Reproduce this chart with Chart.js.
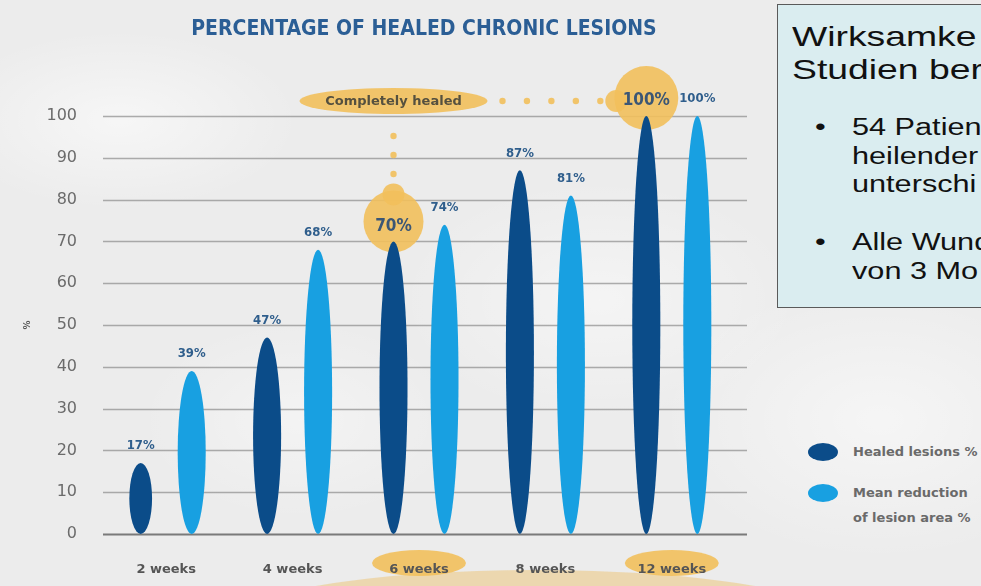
<!DOCTYPE html>
<html><head><meta charset="utf-8">
<script src="https://cdn.jsdelivr.net/npm/chart.js@4/dist/chart.umd.min.js"></script>
<style>
html,body{margin:0;padding:0;width:981px;height:586px;overflow:hidden;}
body{position:relative;background:#ececec;
 background-image:radial-gradient(ellipse 180px 90px at 120px 120px,rgba(255,255,255,.55),rgba(255,255,255,0)),
 radial-gradient(ellipse 200px 120px at 600px 300px,rgba(255,255,255,.45),rgba(255,255,255,0)),
 radial-gradient(ellipse 220px 140px at 880px 420px,rgba(255,255,255,.5),rgba(255,255,255,0)),
 radial-gradient(ellipse 160px 100px at 300px 420px,rgba(255,255,255,.4),rgba(255,255,255,0));}
#c{position:absolute;left:0;top:0;}
#title{position:absolute;left:0;width:848px;top:16px;text-align:center;font:bold 21px 'DejaVu Sans Condensed','DejaVu Sans',sans-serif;color:#2b5e95;white-space:nowrap;}
.lgm{position:absolute;width:30px;height:18px;border-radius:50%;}
.lgt{position:absolute;left:853px;font:bold 13px 'DejaVu Sans',sans-serif;color:#6a6a6a;line-height:16px;white-space:nowrap;}
#box{position:absolute;left:777px;top:4px;width:240px;height:302px;background:#daedf0;border:1.5px solid #5a5a5a;}
.bt{position:absolute;font-family:'Liberation Sans',Arial,sans-serif;color:#111;white-space:nowrap;transform:scaleX(1.333);transform-origin:0 0;}
.h1{font-size:28px;line-height:28px;}
.h2{font-size:23px;line-height:23px;}
</style></head>
<body>
<canvas id="c" width="760" height="586"></canvas>
<div id="title">PERCENTAGE OF HEALED CHRONIC LESIONS</div>
<div class="lgm" id="lg0" style="left:808px;top:443px;"></div>
<div class="lgm" id="lg1" style="left:808px;top:484px;"></div>
<div class="lgt" style="top:444px;">Healed lesions %</div>
<div class="lgt" style="top:485px;">Mean reduction</div>
<div class="lgt" style="top:510px;">of lesion area %</div>
<div id="box"></div>
<div class="bt h1" style="left:792px;top:23px;">Wirksamke</div>
<div class="bt h1" style="left:792px;top:56px;">Studien ber</div>
<div class="bt h2" style="left:815px;top:116px;">•</div>
<div class="bt h2" style="left:852px;top:116px;">54 Patien</div>
<div class="bt h2" style="left:852px;top:145px;">heilender</div>
<div class="bt h2" style="left:852px;top:173px;">unterschi</div>
<div class="bt h2" style="left:815px;top:231px;">•</div>
<div class="bt h2" style="left:852px;top:231px;">Alle Wund</div>
<div class="bt h2" style="left:852px;top:260px;">von 3 Mo</div>
<script>
// ---- data ----
const categories = ['2 weeks', '4 weeks', '6 weeks', '8 weeks', '12 weeks'];
const healedLesions = [17, 47, 70, 87, 100];
const meanReduction = [39, 68, 74, 81, 100];
const seriesNames = ['Healed lesions %', 'Mean reduction of lesion area %'];
const yTickValues = [0, 10, 20, 30, 40, 50, 60, 70, 80, 90, 100];
const highlightedIdx = [2, 4];
const badgeText = 'Completely healed';

const DARK = '#0b4c89', LIGHT = '#18a0e1', GOLD = 'rgba(242,192,92,0.9)';
document.getElementById('lg0').style.background = DARK;
document.getElementById('lg1').style.background = LIGHT;

function ell(ctx, x, y, rx, ry, fill){ctx.beginPath();ctx.ellipse(x,y,rx,ry,0,0,Math.PI*2);ctx.fillStyle=fill;ctx.fill();}
function dot(ctx,x,y,r,fill){ctx.beginPath();ctx.arc(x,y,r,0,Math.PI*2);ctx.fillStyle=fill;ctx.fill();}

const deco = {
  id: 'deco',
  beforeDraw(chart){
    const ctx = chart.ctx, ca = chart.chartArea, xs = chart.scales.x, ys = chart.scales.y;
    ctx.save();
    // beige mound behind lower labels
    const mx = (xs.getPixelForValue(2) + xs.getPixelForValue(4)) / 2;
    ell(ctx, mx - 10, ca.bottom + 86, 300, 50, 'rgba(236,212,165,0.85)');
    // pills behind highlighted x labels
    highlightedIdx.forEach(i => ell(ctx, xs.getPixelForValue(i), ca.bottom + 29, 47, 13, GOLD));
    // gridlines
    yTickValues.forEach(v => {
      const y = Math.round(ys.getPixelForValue(v)) + 0.5;
      ctx.beginPath(); ctx.moveTo(ca.left, y); ctx.lineTo(ca.right + 12, y);
      ctx.strokeStyle = v === 0 ? 'rgba(110,110,110,0.9)' : 'rgba(140,140,140,0.7)';
      ctx.lineWidth = v === 0 ? 2 : 1.5; ctx.stroke();
    });
    // y-axis unit mark
    ctx.translate(28, ys.getPixelForValue(50)); ctx.rotate(-Math.PI/2);
    ctx.font = 'bold 9px "DejaVu Sans"'; ctx.fillStyle = '#555'; ctx.textAlign='center'; ctx.textBaseline='middle';
    ctx.fillText('%', 0, 0);
    ctx.restore();
  },
  beforeDatasetsDraw(chart){
    const ctx = chart.ctx, meta = chart.getDatasetMeta(0);
    const a = meta.data[highlightedIdx[0]], b = meta.data[highlightedIdx[1]];
    ctx.save();
    const ca = {x: a.x, y: a.y - 20}, cb = {x: b.x, y: b.y - 18};
    // circles
    ell(ctx, ca.x, ca.y, 30, 31, GOLD);
    dot(ctx, ca.x, ca.y - 27, 11, GOLD);
    ell(ctx, cb.x, cb.y, 32, 32, GOLD);
    dot(ctx, cb.x - 30, b.y - 15, 11, GOLD);
    // badge pill
    const px = a.x, py = b.y - 15;
    ell(ctx, px, py, 94, 13, GOLD);
    ctx.font = 'bold 13px "DejaVu Sans"'; ctx.fillStyle = '#55503f';
    ctx.textAlign = 'center'; ctx.textBaseline = 'middle';
    ctx.fillText(badgeText, px, py + 1);
    // vertical dots
    for (let k = 0; k < 3; k++) dot(ctx, px, py + 35 + k * 19, 3.2, GOLD);
    // horizontal dots
    const x0 = px + 94 + 15, x1 = cb.x - 46;
    for (let k = 0; k < 5; k++) dot(ctx, x0 + (x1 - x0) * k / 4, py, 3.2, GOLD);
    ctx.restore();
  },
  beforeDatasetDraw(chart, args){
    const ctx = chart.ctx, meta = args.meta;
    const color = chart.data.datasets[args.index].backgroundColor;
    ctx.save();
    meta.data.forEach(el => {
      const {x, y, base, width} = el.getProps(['x','y','base','width'], true);
      const h = base - y, rx = Math.min(width/2, h * 0.16);
      ell(ctx, x, (y + base)/2, rx, h/2, color);
    });
    ctx.restore();
    return false;
  },
  afterDatasetsDraw(chart){
    const ctx = chart.ctx;
    ctx.save(); ctx.textAlign = 'center'; ctx.textBaseline = 'middle';
    chart.data.datasets.forEach((ds, di) => {
      chart.getDatasetMeta(di).data.forEach((el, i) => {
        const big = di === 0 && highlightedIdx.includes(i);
        ctx.font = big ? 'bold 17px "DejaVu Sans Condensed"' : 'bold 13px "DejaVu Sans Condensed"';
        ctx.fillStyle = big ? '#3b5675' : '#2f5e8c';
        ctx.fillText(ds.data[i] + '%', el.x, el.y - (big ? 15 : 17));
      });
    });
    ctx.restore();
  }
};

new Chart(document.getElementById('c'), {
  type: 'bar',
  data: {
    labels: categories,
    datasets: [
      {label: seriesNames[0], data: healedLesions, backgroundColor: DARK},
      {label: seriesNames[1], data: meanReduction, backgroundColor: LIGHT}
    ]
  },
  options: {
    responsive: false, animation: false, devicePixelRatio: 1,
    categoryPercentage: 0.807, barPercentage: 0.55,
    layout: {padding: {top: 116, right: 25, left: 0, bottom: 0}},
    plugins: {legend: {display: false}, tooltip: {enabled: false}},
    scales: {
      x: {
        grid: {display: false}, border: {display: false},
        ticks: {font: {family: 'DejaVu Sans', weight: 'bold', size: 13}, color: '#555555', padding: 20},
        afterFit(s){ s.height = 52; }
      },
      y: {
        min: 0, max: 100,
        grid: {display: false}, border: {display: false},
        afterBuildTicks(s){ s.ticks = yTickValues.map(v => ({value: v})); },
        ticks: {font: {family: 'DejaVu Sans', size: 16}, color: '#6b6b6b', padding: 18},
        afterFit(s){ s.width = 103; }
      }
    }
  },
  plugins: [deco]
});
</script>
</body></html>
